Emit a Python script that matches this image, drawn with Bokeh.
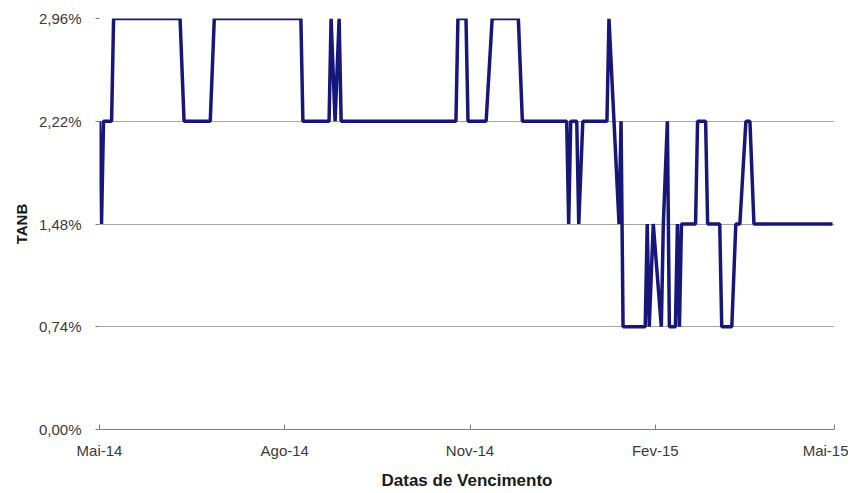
import pandas as pd
from bokeh.plotting import figure
from bokeh.models import Range1d, FixedTicker, CustomJSTickFormatter
from bokeh.embed import file_html
from bokeh.resources import INLINE

# ---- data ----
dates = [
    "2014-05-01", "2014-05-02", "2014-05-03", "2014-05-07", "2014-05-08",
    "2014-06-10", "2014-06-12", "2014-06-25", "2014-06-27", "2014-08-09",
    "2014-08-10", "2014-08-23", "2014-08-24", "2014-08-26", "2014-08-28",
    "2014-08-29", "2014-10-25", "2014-10-26", "2014-10-30", "2014-10-31",
    "2014-11-09", "2014-11-12", "2014-11-25", "2014-11-27", "2014-12-19",
    "2014-12-20", "2014-12-21", "2014-12-24", "2014-12-25", "2014-12-27",
    "2015-01-08", "2015-01-09", "2015-01-14", "2015-01-15", "2015-01-16",
    "2015-01-27", "2015-01-28", "2015-01-29", "2015-01-31", "2015-02-04",
    "2015-02-05", "2015-02-07", "2015-02-08", "2015-02-11", "2015-02-12",
    "2015-02-13", "2015-02-14", "2015-02-21", "2015-02-22", "2015-02-26",
    "2015-02-27", "2015-03-05", "2015-03-06", "2015-03-11", "2015-03-13",
    "2015-03-15", "2015-03-18", "2015-03-20", "2015-03-22", "2015-04-30",
]
tanb = [
    2.22, 1.48, 2.22, 2.22, 2.96,
    2.96, 2.22, 2.22, 2.96, 2.96,
    2.22, 2.22, 2.96, 2.22, 2.96,
    2.22, 2.22, 2.96, 2.96, 2.22,
    2.22, 2.96, 2.96, 2.22, 2.22,
    1.48, 2.22, 2.22, 1.48, 2.22,
    2.22, 2.96, 1.48, 2.22, 0.74,
    0.74, 1.48, 0.74, 1.48, 0.74,
    1.48, 2.22, 0.74, 0.74, 1.48,
    0.74, 1.48, 1.48, 2.22, 2.22,
    1.48, 1.48, 0.74, 0.74, 1.48,
    1.48, 2.22, 2.22, 1.48, 1.48,
]
x_tick_dates = ["2014-05-01", "2014-08-01", "2014-11-01", "2015-02-01", "2015-05-01"]
x_tick_labels = ["Mai-14", "Ago-14", "Nov-14", "Fev-15", "Mai-15"]
y_ticks = [0.0, 0.74, 1.48, 2.22, 2.96]
y_tick_labels = ["0,00%", "0,74%", "1,48%", "2,22%", "2,96%"]

x = pd.to_datetime(dates)
xt = [pd.Timestamp(d).value / 1e6 for d in x_tick_dates]

LOOKUP = """
    let best = 0, bd = Infinity;
    for (let i = 0; i < tvals.length; i++) { const d = Math.abs(tvals[i] - tick); if (d < bd) { bd = d; best = i; } }
    return labs[best];
"""

p = figure(width=848, height=492, x_axis_type="datetime",
           output_backend="svg", toolbar_location=None,
           x_range=Range1d(pd.Timestamp(x_tick_dates[0]), pd.Timestamp(x_tick_dates[-1])),
           y_range=Range1d(0, 2.96),
           min_border_left=99, min_border_right=14, min_border_top=18, min_border_bottom=62)
p.outline_line_color = None
p.background_fill_color = "white"

p.line(x, tanb, line_color="#17177a", line_width=3.5)

font = "Liberation Sans"

# x axis
p.xaxis.ticker = FixedTicker(ticks=xt)
p.xaxis.formatter = CustomJSTickFormatter(args=dict(tvals=xt, labs=x_tick_labels), code=LOOKUP)
p.xaxis.axis_label = "Datas de Vencimento"
p.xaxis.axis_line_color = "#7f7f7f"
p.xaxis.major_tick_line_color = "#7f7f7f"
p.xaxis.major_tick_in = 5
p.xaxis.major_tick_out = 0
p.xaxis.minor_tick_line_color = None
p.xaxis.major_label_standoff = 12
p.xaxis.axis_label_standoff = 9
p.xaxis.major_label_text_font = font
p.xaxis.major_label_text_font_size = "15px"
p.xaxis.major_label_text_color = "#3a3a3a"
p.xaxis.axis_label_text_font = font
p.xaxis.axis_label_text_font_style = "bold"
p.xaxis.axis_label_text_font_size = "17px"
p.xaxis.axis_label_text_color = "#1a1a1a"

# y axis
p.yaxis.ticker = FixedTicker(ticks=y_ticks)
p.yaxis.formatter = CustomJSTickFormatter(args=dict(tvals=y_ticks, labs=y_tick_labels), code=LOOKUP)
p.yaxis.axis_label = "TANB"
p.yaxis.axis_line_color = None
p.yaxis.major_tick_line_color = "#7f7f7f"
p.yaxis.major_tick_in = 0
p.yaxis.major_tick_out = 4
p.yaxis.minor_tick_line_color = None
p.yaxis.major_label_standoff = 14
p.yaxis.axis_label_standoff = 6
p.yaxis.major_label_text_font = font
p.yaxis.major_label_text_font_size = "15px"
p.yaxis.major_label_text_color = "#3a3a3a"
p.yaxis.axis_label_text_font = font
p.yaxis.axis_label_text_font_style = "bold"
p.yaxis.axis_label_text_font_size = "15px"
p.yaxis.axis_label_text_color = "#1a1a1a"

p.xgrid.grid_line_color = None
p.ygrid.grid_line_color = "#a6a6a6"
p.ygrid.grid_line_width = 1

open("out.html", "w").write(file_html(p, INLINE))
